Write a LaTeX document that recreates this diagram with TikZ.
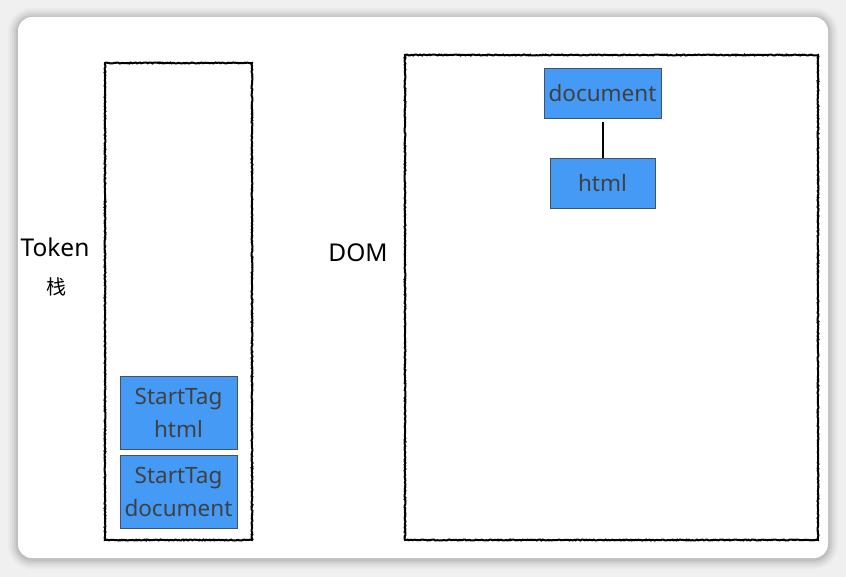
\documentclass[tikz,border=0pt]{standalone}
\usepackage{fontspec}
\setmainfont{Noto Sans}
\newfontfamily\cjk{Noto Sans CJK SC}
\usetikzlibrary{calc}
\usetikzlibrary{decorations.pathmorphing}
\definecolor{tokblue}{RGB}{69,154,245}
\definecolor{tokedge}{RGB}{70,80,95}
\definecolor{toktext}{RGB}{64,64,64}
\definecolor{pagegray}{RGB}{240,240,240}

\tikzset{
  sketch/.style={black, line width=2pt, decorate,
    decoration={random steps, segment length=1.2pt, amplitude=0.5pt}},
  tag/.style={draw=tokedge, fill=tokblue, line width=0.8pt, text=toktext,
    font=\fontsize{22.5}{33}\selectfont, align=center, inner sep=0pt},
  lbl/.style={font=\fontsize{24.5}{28}\selectfont, text=black}
}

\begin{document}
\begin{tikzpicture}[x=1pt, y=-1pt]
\useasboundingbox (0,0) rectangle (846,577);
\fill[pagegray] (0,0) rectangle (846,577);
% soft shadow of the card
\foreach \s/\o in {10/0.025, 8/0.03, 6/0.04, 4/0.05, 2/0.06} {
 \fill[black, opacity=\o, rounded corners=14+\s] (18-\s,17-\s+1) rectangle (828+\s,558+\s+1);
}
\fill[white, rounded corners=14] (18,17) rectangle (828,558);

% token stack and dom area
\draw[sketch] (105,63) rectangle (252,540);
\draw[sketch] (405,55) rectangle (818,540);

\node[lbl] (token) at (55,247) {Token};
\node[lbl, font=\cjk\fontsize{20}{24}\selectfont] (zhan) at (56,287) {栈};
\node[lbl] (dom) at (358,253) {DOM};

% tokens
\node[tag, minimum width=117, minimum height=73] (thtml) at (178.5,412.5) {StartTag\\html};
\node[tag, minimum width=117, minimum height=73] (tdoc) at (178.5,491.5) {StartTag\\document};

% tree
\node[tag, minimum width=117, minimum height=50] (ndoc) at (602.5,93) {document};
\node[tag, minimum width=105, minimum height=50] (nhtml) at (602.5,183) {html};
\draw[black, line width=2pt] ($(ndoc.south)+(0,4)$) -- (nhtml.north);
\end{tikzpicture}
\end{document}
